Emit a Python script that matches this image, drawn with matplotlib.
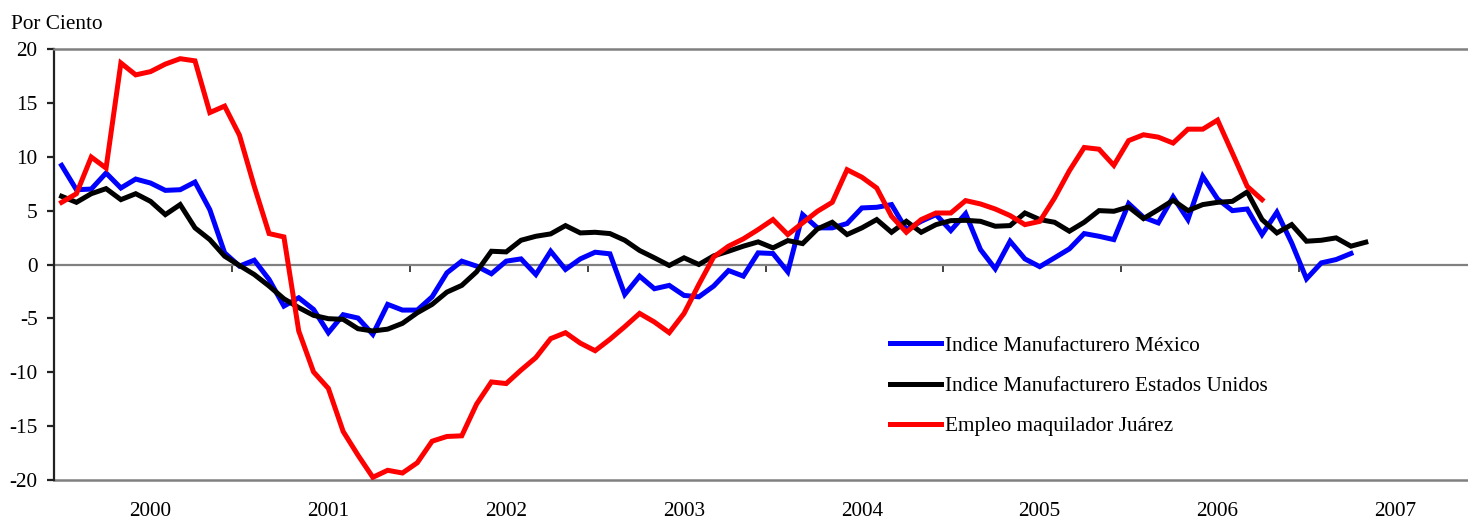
import matplotlib
matplotlib.use("Agg")
import matplotlib.pyplot as plt
import numpy as np

plt.rcParams['font.family'] = ['Liberation Serif', 'DejaVu Serif']
plt.rcParams['axes.unicode_minus'] = False

# Monthly series (index 0 = first month shown)
mexico = [9.2, 6.94, 7.0, 8.49, 7.1, 7.93, 7.56, 6.88, 6.94, 7.65, 5.09, 1.08,
          -0.15, 0.4, -1.39, -3.86, -3.09, -4.17, -6.33, -4.66, -4.97, -6.48, -3.7, -4.23,
          -4.23, -3.0, -0.77, 0.31, -0.15, -0.86, 0.31, 0.52, -0.93, 1.23, -0.46, 0.52,
          1.14, 0.99, -2.78, -1.08, -2.25, -1.94, -2.87, -3.0, -2.0, -0.56, -1.08, 1.08,
          1.02, -0.68, 4.63, 3.4, 3.4, 3.8, 5.25, 5.31, 5.56, 3.24, 4.01, 4.63,
          3.15, 4.72, 1.39, -0.4, 2.16, 0.52, -0.2, 0.62, 1.45, 2.87, 2.62, 2.31,
          5.65, 4.38, 3.86, 6.27, 4.17, 8.18, 6.08, 5.0, 5.15, 2.78, 4.85, 2.0,
          -1.33, 0.15, 0.46, 1.02]
usa = [6.33, 5.77, 6.57, 7.04, 6.02, 6.57, 5.86, 4.63, 5.56, 3.4, 2.31, 0.77,
       -0.09, -0.93, -2.0, -3.18, -4.0, -4.72, -5.03, -5.09, -5.96, -6.17, -6.0, -5.46,
       -4.48, -3.7, -2.56, -1.94, -0.68, 1.23, 1.17, 2.25, 2.62, 2.84, 3.61, 2.93,
       2.99, 2.87, 2.25, 1.3, 0.62, -0.09, 0.62, 0.0, 0.8, 1.23, 1.7, 2.1,
       1.54, 2.22, 1.94, 3.3, 3.92, 2.78, 3.4, 4.17, 2.99, 4.01, 2.99, 3.7,
       4.07, 4.1, 4.01, 3.55, 3.61, 4.78, 4.17, 3.92, 3.09, 3.92, 5.0, 4.94,
       5.34, 4.26, 5.09, 5.96, 5.0, 5.56, 5.77, 5.86, 6.73, 4.17, 2.93, 3.7,
       2.16, 2.25, 2.47, 1.7, 2.07]
juarez = [5.77, 6.57, 9.97, 8.95, 18.7, 17.6, 17.9, 18.6, 19.1, 18.9, 14.1, 14.7,
          12.0, 7.25, 2.87, 2.56, -6.17, -9.97, -11.5, -15.5, -17.7, -19.75, -19.1, -19.35,
          -18.4, -16.4, -15.96, -15.9, -12.96, -10.9, -11.05, -9.8, -8.64, -6.88, -6.33, -7.3,
          -8.0, -6.94, -5.77, -4.54, -5.34, -6.33, -4.54, -1.85, 0.7, 1.7, 2.38, 3.24,
          4.17, 2.78, 3.86, 4.94, 5.77, 8.8, 8.1, 7.1, 4.48, 2.99, 4.17, 4.78,
          4.78, 5.93, 5.62, 5.15, 4.54, 3.7, 4.0, 6.17, 8.7, 10.86, 10.7, 9.2,
          11.5, 12.04, 11.82, 11.27, 12.56, 12.56, 13.4, 10.34, 7.25, 6.02]

year_labels = ['2000', '2001', '2002', '2003', '2004', '2005', '2006', '2007']
label_months = [6, 18, 30, 42, 54, 66, 78, 90]
year_bounds = [11.5, 23.5, 35.5, 47.5, 59.5, 71.5, 83.5]
series_names = ['Indice Manufacturero México',
                'Indice Manufacturero Estados Unidos',
                'Empleo maquilador Juárez']

W, H = 1468, 521
fig = plt.figure(figsize=(W / 100, H / 100), dpi=100)
ax = fig.add_axes([54.2 / W, 1 - 480 / H, 1 - 54.2 / W, (480 - 49) / H])

lw = 3.6
ax.plot(np.arange(len(mexico)), mexico, color='#0000FF', lw=lw, label=series_names[0],
        solid_joinstyle='miter', zorder=3)
ax.plot(np.arange(len(usa)), usa, color='black', lw=lw, label=series_names[1],
        solid_joinstyle='miter', zorder=3)
ax.plot(np.arange(len(juarez)), juarez, color='#FF0000', lw=lw, label=series_names[2],
        solid_joinstyle='miter', zorder=3)

ax.set_xlim(-0.5, (W - 54.2) / 14.82 - 0.5)
ax.set_ylim(-20, 20)
ax.set_yticks(range(-20, 21, 5))

gray = '#808080'
ax.spines['right'].set_visible(False)
ax.spines['top'].set_color(gray)
ax.spines['top'].set_linewidth(1.8)
ax.spines['left'].set_color('#222222')
ax.spines['left'].set_linewidth(1.6)
ax.spines['bottom'].set_position(('data', 0))
ax.spines['bottom'].set_color(gray)
ax.spines['bottom'].set_linewidth(1.6)
ax.spines['bottom'].set_zorder(2)

ax.set_xticks(year_bounds)
ax.set_xticklabels([])
ax.tick_params(axis='x', direction='out', length=5, width=1.2, color='#222222')
ax.tick_params(axis='y', direction='out', length=5, width=1.6, color='#222222',
               labelsize=15.3, pad=7)

sec = ax.secondary_xaxis(0)
sec.set_xticks(label_months)
sec.set_xticklabels(year_labels)
sec.tick_params(length=0, labelsize=15.3, pad=16)
sec.spines['bottom'].set_color(gray)
sec.spines['bottom'].set_linewidth(1.8)

fig.text(11 / W, 1 - 29 / H, 'Por Ciento', fontsize=15.3, ha='left', va='baseline')

leg = ax.legend(loc='center left', bbox_to_anchor=(890 / W, 1 - 386 / H),
                bbox_transform=fig.transFigure, frameon=False, fontsize=15.3,
                handlelength=2.4, handletextpad=0.2, labelspacing=0.95,
                borderaxespad=0, borderpad=0)

fig.savefig('out.png', dpi=100)
